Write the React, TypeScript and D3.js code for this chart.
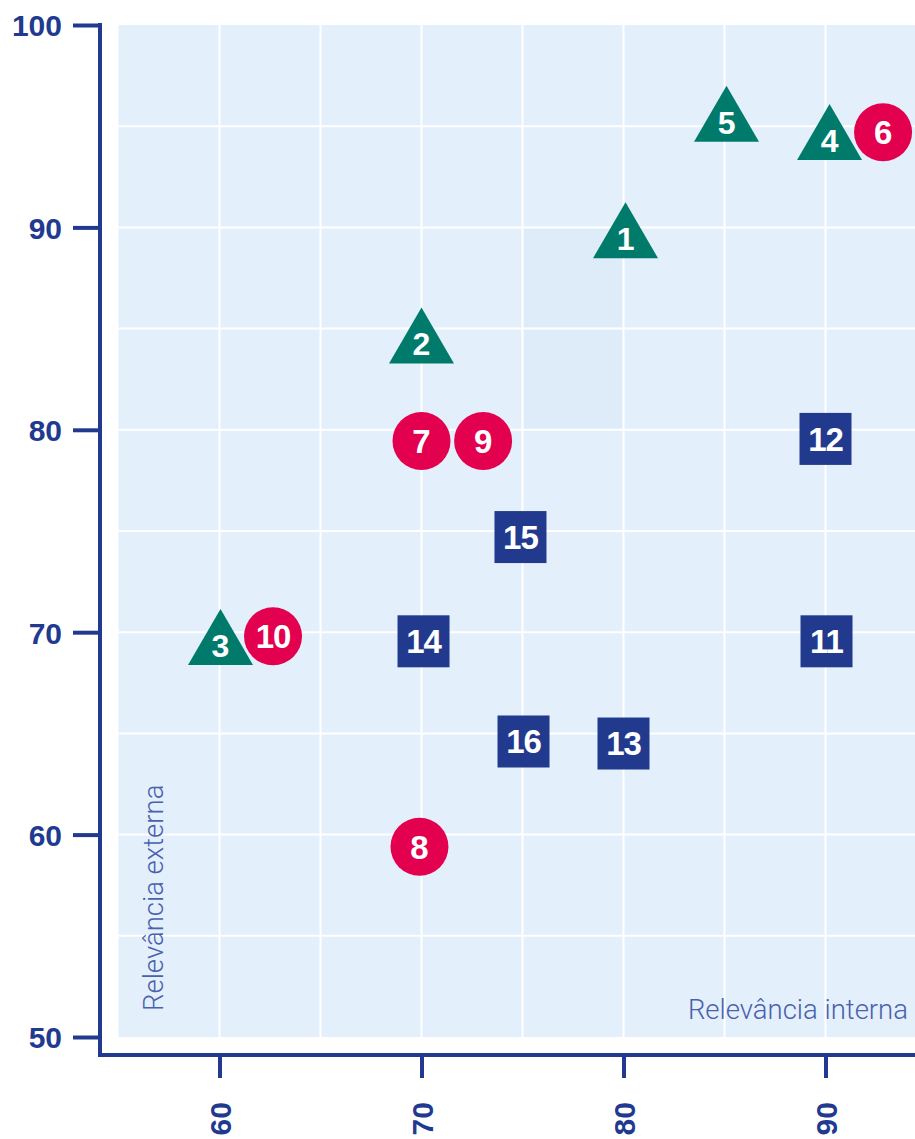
import React, { useEffect, useRef } from 'react';
import * as d3 from 'd3';

// point ids, shapes and positions
const pointIds = [1, 2, 3, 4, 5, 6, 7, 8, 9, 10, 11, 12, 13, 14, 15, 16];
const pointShapes = [
  'triangle', 'triangle', 'triangle', 'triangle', 'triangle',
  'circle', 'circle', 'circle', 'circle', 'circle',
  'square', 'square', 'square', 'square', 'square', 'square',
];
const internalValues = [80.1, 70.0, 60.05, 90.2, 85.1, 92.85, 70.0, 69.9, 73.05, 62.65, 90.05, 90.0, 80.0, 70.1, 74.9, 75.05];
const externalValues = [89.4, 84.2, 69.3, 94.25, 95.15, 94.7, 79.45, 59.4, 79.45, 69.8, 69.55, 79.55, 64.5, 69.55, 74.7, 64.6];

const xTicks = [60, 70, 80, 90];
const yTicks = [50, 60, 70, 80, 90, 100];
const gridX = [60, 65, 70, 75, 80, 85, 90];
const gridY = [55, 60, 65, 70, 75, 80, 85, 90, 95];
const highlightCell = { x0: 75, x1: 80, y0: 80, y1: 90 };

const navy = '#213a8f';
const green = '#007b6b';
const red = '#e3004f';
const square = '#223a8e';

export default function App() {
  const ref = useRef<SVGSVGElement>(null);

  useEffect(() => {
    const svg = d3.select(ref.current);
    svg.selectAll('*').remove();

    const x = d3.scaleLinear().domain([55, 95]).range([118.5, 926.5]);
    const y = d3.scaleLinear().domain([50, 100]).range([1037, 25]);

    // plot background
    svg.append('rect')
      .attr('x', x(55))
      .attr('y', y(100))
      .attr('width', x(95) - x(55))
      .attr('height', y(50) - y(100))
      .attr('fill', '#e3effa');

    svg.append('rect')
      .attr('x', x(highlightCell.x0))
      .attr('y', y(highlightCell.y1))
      .attr('width', x(highlightCell.x1) - x(highlightCell.x0))
      .attr('height', y(highlightCell.y0) - y(highlightCell.y1))
      .attr('fill', '#deecf9');

    // grid
    svg.append('g')
      .selectAll('line')
      .data(gridX)
      .enter()
      .append('line')
      .attr('x1', (d) => x(d))
      .attr('x2', (d) => x(d))
      .attr('y1', y(100))
      .attr('y2', y(50))
      .attr('stroke', '#ffffff')
      .attr('stroke-width', 2);

    svg.append('g')
      .selectAll('line')
      .data(gridY)
      .enter()
      .append('line')
      .attr('x1', x(55))
      .attr('x2', x(95))
      .attr('y1', (d) => y(d))
      .attr('y2', (d) => y(d))
      .attr('stroke', '#ffffff')
      .attr('stroke-width', 2);

    // axes
    const yAxis = svg.append('g')
      .attr('transform', 'translate(100, 0)')
      .call(d3.axisLeft(y).tickValues(yTicks).tickSize(27).tickSizeOuter(0).tickPadding(11).tickFormat(d3.format('d')));
    yAxis.select('.domain').remove();
    yAxis.selectAll('line').attr('stroke', navy).attr('stroke-width', 4);
    yAxis.selectAll('text')
      .attr('fill', navy)
      .attr('font-family', '"Liberation Sans", Arial, sans-serif')
      .attr('font-weight', 'bold')
      .attr('font-size', 30)
      .attr('dy', '0.36em');

    const xAxis = svg.append('g')
      .attr('transform', 'translate(0, 1055)')
      .call(d3.axisBottom(x).tickValues(xTicks).tickSize(23).tickSizeOuter(0).tickFormat(d3.format('d')));
    xAxis.select('.domain').remove();
    xAxis.selectAll('line').attr('stroke', navy).attr('stroke-width', 4);
    xAxis.selectAll('text')
      .attr('fill', navy)
      .attr('font-family', '"Liberation Sans", Arial, sans-serif')
      .attr('font-weight', 'bold')
      .attr('font-size', 30)
      .attr('transform', 'rotate(-90)')
      .attr('x', -47)
      .attr('y', 0)
      .attr('dy', '0.36em')
      .attr('text-anchor', 'end');

    svg.append('path')
      .attr('d', `M100,${y(100) - 2}V1055H915`)
      .attr('fill', 'none')
      .attr('stroke', navy)
      .attr('stroke-width', 4);

    // axis titles
    svg.append('text')
      .attr('transform', 'translate(163, 1011) rotate(-90)')
      .attr('fill', '#4a61ad')
      .attr('font-family', 'Roboto, sans-serif')
      .attr('font-weight', 300)
      .attr('font-size', 27.5)
      .attr('text-anchor', 'start')
      .text('Relevância externa');

    svg.append('text')
      .attr('x', 908)
      .attr('y', 1019)
      .attr('fill', '#4a61ad')
      .attr('font-family', 'Roboto, sans-serif')
      .attr('font-weight', 300)
      .attr('font-size', 27.5)
      .attr('text-anchor', 'end')
      .text('Relevância interna');

    // points
    const points = pointIds.map((id, i) => ({
      id,
      shape: pointShapes[i],
      cx: x(internalValues[i]),
      cy: y(externalValues[i]),
    }));

    const groups = svg.append('g')
      .selectAll('g')
      .data(points)
      .enter()
      .append('g')
      .attr('transform', (p) => `translate(${p.cx}, ${p.cy})`);

    const triW = 65;
    const triH = 56;
    groups.filter((p) => p.shape === 'triangle')
      .append('path')
      .attr('d', `M0,${-triH * 2 / 3}L${triW / 2},${triH / 3}L${-triW / 2},${triH / 3}Z`)
      .attr('fill', green);

    groups.filter((p) => p.shape === 'circle')
      .append('circle')
      .attr('r', 29)
      .attr('fill', red);

    groups.filter((p) => p.shape === 'square')
      .append('rect')
      .attr('x', -26)
      .attr('y', -26)
      .attr('width', 52)
      .attr('height', 52)
      .attr('fill', square);

    groups.append('text')
      .attr('text-anchor', 'middle')
      .attr('y', (p) => (p.shape === 'triangle' ? -1 : 0))
      .attr('dy', '0.36em')
      .attr('fill', '#ffffff')
      .attr('font-family', '"Liberation Sans", Arial, sans-serif')
      .attr('font-weight', 'bold')
      .attr('font-size', (p) => (p.shape === 'triangle' ? 32 : 33))
      .attr('letter-spacing', (p) => (p.id >= 10 ? -1 : 0))
      .text((p) => p.id);
  }, []);

  return (
    <svg
      ref={ref}
      width={915}
      height={1139}
      style={{ position: 'absolute', left: 0, top: 0, background: '#ffffff' }}
    />
  );
}
